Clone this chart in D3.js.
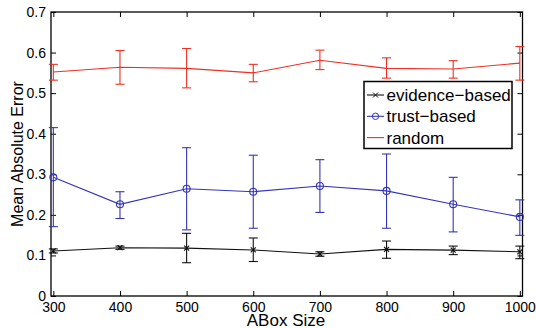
<!DOCTYPE html>
<html>
<meta charset="utf-8" />
<style>
	html, body, svg { margin: 0; padding: 0; }
	body { background: #fff; }
	text { font-family: "Liberation Sans", Arial, sans-serif; fill: #000; }
	.tick text { font-size: 14px; }
	.axis-title { font-size: 17px; }
	.ytitle { font-size: 16px; }
	.legend text { font-size: 17px; }
</style>
<svg width="536" height="328"></svg>
<script src="https://cdnjs.cloudflare.com/ajax/libs/d3/7.8.5/d3.min.js"></script>
<script>
var sizes = [300, 400, 500, 600, 700, 800, 900, 1000];
var yTicks = [0, 0.1, 0.2, 0.3, 0.4, 0.5, 0.6, 0.7];

var evidenceMean = [0.111, 0.119, 0.118, 0.1135, 0.1035, 0.115, 0.113, 0.109];
var evidenceLow  = [0.106, 0.115, 0.082, 0.085, 0.098, 0.093, 0.102, 0.092];
var evidenceHigh = [0.116, 0.123, 0.1545, 0.143, 0.109, 0.1355, 0.123, 0.123];

var trustMean = [0.2925, 0.226, 0.2645, 0.257, 0.271, 0.259, 0.226, 0.195];
var trustLow  = [0.171, 0.191, 0.163, 0.167, 0.206, 0.167, 0.158, 0.1495];
var trustHigh = [0.415, 0.257, 0.3655, 0.347, 0.336, 0.350, 0.2925, 0.237];

var randomMean = [0.552, 0.564, 0.561, 0.550, 0.581, 0.561, 0.5595, 0.574];
var randomLow  = [0.532, 0.522, 0.513, 0.528, 0.558, 0.537, 0.537, 0.532];
var randomHigh = [0.571, 0.605, 0.610, 0.571, 0.606, 0.587, 0.580, 0.615];

var series = [
	{ name: "evidence\u2212based", color: "#111", marker: "x", mean: evidenceMean, low: evidenceLow, high: evidenceHigh },
	{ name: "trust\u2212based", color: "#3535b8", marker: "o", mean: trustMean, low: trustLow, high: trustHigh },
	{ name: "random", color: "#ee3024", marker: "none", mean: randomMean, low: randomLow, high: randomHigh }
];

var svg = d3.select("svg");
var plotL = 51, plotR = 522.5, plotT = 12, plotB = 296;

var x = d3.scaleLinear().domain([296.5, 1004]).range([plotL, plotR]);
var y = d3.scaleLinear().domain([0, 0.7]).range([plotB, plotT]);

// axes with inward ticks
svg.append("g").attr("transform", "translate(0," + plotB + ")")
	.call(d3.axisBottom(x).tickValues(sizes).tickSize(-5).tickPadding(6).tickFormat(d3.format("d")));
svg.append("g").attr("transform", "translate(0," + plotT + ")")
	.call(d3.axisTop(x).tickValues(sizes).tickSize(-5).tickFormat(""));
svg.append("g").attr("transform", "translate(" + plotL + ",0)")
	.call(d3.axisLeft(y).tickValues(yTicks).tickSize(-5).tickPadding(5).tickFormat(function (d) { return d === 0 ? "0" : d3.format(".1f")(d); }));
svg.append("g").attr("transform", "translate(" + plotR + ",0)")
	.call(d3.axisRight(y).tickValues(yTicks).tickSize(-5).tickFormat(""));
svg.selectAll(".domain").remove();
svg.selectAll(".tick line").attr("stroke", "#000");
svg.selectAll(".tick text").attr("fill", "#000");

svg.append("rect").attr("x", plotL).attr("y", plotT).attr("width", plotR - plotL).attr("height", plotB - plotT)
	.attr("fill", "none").attr("stroke", "#000").attr("stroke-width", 1.3);

var line = d3.line().x(function (d) { return x(d.s); }).y(function (d) { return y(d.m); });
var cap = 4.5;

series.forEach(function (s) {
	var pts = sizes.map(function (v, i) { return { s: v, m: s.mean[i], lo: s.low[i], hi: s.high[i] }; });
	var g = svg.append("g").attr("stroke", s.color).attr("fill", "none").attr("stroke-width", 1.1);
	g.append("path").attr("d", line(pts));
	var eb = g.selectAll(".eb").data(pts).enter().append("g");
	eb.append("line").attr("x1", function (d) { return x(d.s); }).attr("x2", function (d) { return x(d.s); })
		.attr("y1", function (d) { return y(d.lo); }).attr("y2", function (d) { return y(d.hi); });
	eb.append("line").attr("x1", function (d) { return x(d.s) - cap; }).attr("x2", function (d) { return x(d.s) + cap; })
		.attr("y1", function (d) { return y(d.lo); }).attr("y2", function (d) { return y(d.lo); });
	eb.append("line").attr("x1", function (d) { return x(d.s) - cap; }).attr("x2", function (d) { return x(d.s) + cap; })
		.attr("y1", function (d) { return y(d.hi); }).attr("y2", function (d) { return y(d.hi); });
	if (s.marker === "o") {
		eb.append("circle").attr("cx", function (d) { return x(d.s); }).attr("cy", function (d) { return y(d.m); }).attr("r", 3.5);
	} else if (s.marker === "x") {
		eb.append("path").attr("d", function (d) {
			var cx = x(d.s), cy = y(d.m), r = 2.5;
			return "M" + (cx - r) + "," + (cy - r) + "L" + (cx + r) + "," + (cy + r) + "M" + (cx - r) + "," + (cy + r) + "L" + (cx + r) + "," + (cy - r);
		});
	}
});

// legend
var lg = svg.append("g").attr("class", "legend");
lg.append("rect").attr("x", 364).attr("y", 81.5).attr("width", 148).attr("height", 67)
	.attr("fill", "#fff").attr("stroke", "#000").attr("stroke-width", 1.5);
series.forEach(function (s, i) {
	var ly = 95 + i * 21.3;
	lg.append("line").attr("x1", 367).attr("x2", 384).attr("y1", ly).attr("y2", ly).attr("stroke", s.color).attr("stroke-width", 1.1);
	if (s.marker === "o") {
		lg.append("circle").attr("cx", 375.5).attr("cy", ly).attr("r", 3.2).attr("fill", "none").attr("stroke", s.color);
	} else if (s.marker === "x") {
		lg.append("path").attr("d", "M373,92.5L378,97.5M373,97.5L378,92.5").attr("stroke", s.color).attr("stroke-width", 1);
	}
	lg.append("text").attr("x", 386.5).attr("y", ly).attr("dy", "0.35em").text(s.name);
});

// axis titles
svg.append("text").attr("class", "axis-title").attr("x", 286).attr("y", 325.5).attr("text-anchor", "middle").text("ABox Size");
svg.append("text").attr("class", "axis-title ytitle").attr("transform", "translate(23,154) rotate(-90)").attr("text-anchor", "middle").text("Mean Absolute Error");
</script>
</html>
